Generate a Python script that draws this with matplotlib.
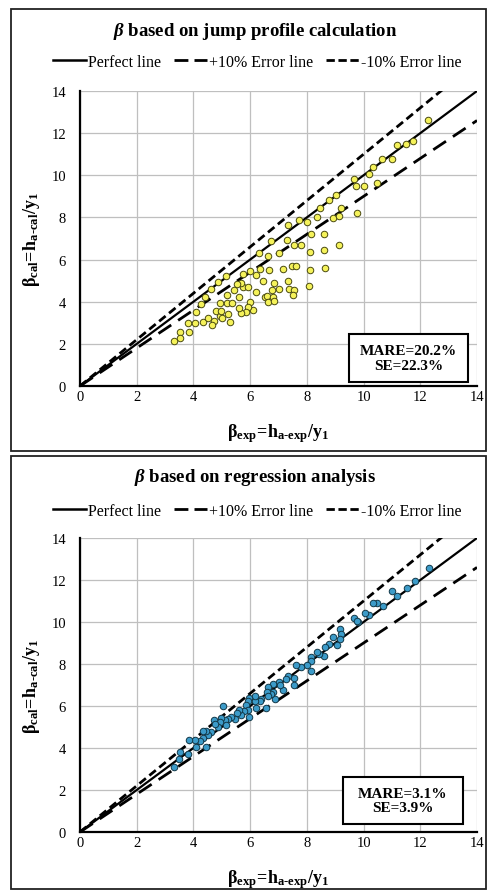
import matplotlib
matplotlib.use("Agg")
import matplotlib.pyplot as plt
from matplotlib.lines import Line2D
from matplotlib.patches import Rectangle
import numpy as np

plt.rcParams['font.family'] = ['Liberation Serif', 'DejaVu Serif']
plt.rcParams['mathtext.fontset'] = 'custom'
plt.rcParams['mathtext.rm'] = 'Liberation Serif'
plt.rcParams['mathtext.it'] = 'Liberation Serif:italic'
plt.rcParams['mathtext.bf'] = 'Liberation Serif:bold'
plt.rcParams['mathtext.bfit'] = 'Liberation Serif:italic:bold'

# ---- data: jump profile calculation (top) ----
jump_exp = [12.27, 11.76, 11.51, 11.18, 11.01, 10.66, 10.33, 10.19, 10.47, 10.01,
            9.65, 9.74, 9.78, 9.04, 8.78, 8.47, 9.21, 8.92, 9.15, 8.35,
            8.01, 7.74, 7.33, 8.15, 8.59, 8.59, 9.15, 8.12, 7.80, 7.54,
            7.29, 7.01, 6.74, 6.62, 6.31, 6.66, 6.35, 5.98, 7.15, 7.47,
            7.62, 8.12, 8.65, 8.07, 7.33, 7.36, 7.53, 7.51, 7.01, 6.84,
            6.78, 6.45, 6.19, 6.19, 6.51, 6.60, 6.62, 6.80, 6.84, 6.09,
            6.00, 5.92, 5.84, 5.68, 5.60, 5.60, 5.74, 5.92, 5.68, 5.53,
            5.76, 5.42, 5.18, 5.18, 5.36, 4.95, 5.15, 4.86, 4.62, 4.42,
            4.25, 4.09, 3.80, 4.06, 4.33, 4.51, 4.71, 4.65, 4.80, 4.92,
            4.98, 5.01, 5.21, 5.29, 3.86, 3.51, 3.54, 3.31]
jump_cal = [12.62, 11.62, 11.48, 11.43, 10.75, 10.75, 10.37, 10.05, 9.63, 9.48,
            9.84, 9.48, 8.21, 9.08, 8.81, 8.46, 8.44, 7.98, 8.05, 8.02,
            7.78, 7.89, 7.62, 7.22, 7.22, 6.46, 6.71, 6.35, 6.67, 6.67,
            6.95, 6.32, 6.87, 6.19, 6.30, 5.52, 5.56, 5.48, 5.54, 5.71,
            5.71, 5.51, 5.60, 4.76, 5.00, 4.60, 4.56, 4.32, 4.60, 4.90,
            4.56, 5.00, 5.29, 4.44, 4.24, 4.29, 3.97, 4.24, 4.05, 3.60,
            3.97, 3.73, 3.52, 3.46, 3.68, 4.24, 4.68, 4.71, 4.89, 4.84,
            5.32, 4.56, 4.32, 3.92, 3.92, 3.92, 5.24, 4.92, 4.60, 4.24,
            3.89, 3.52, 2.98, 2.98, 3.06, 3.25, 3.10, 2.89, 3.57, 3.33,
            3.57, 3.22, 3.41, 3.02, 2.54, 2.54, 2.30, 2.14]

# ---- data: regression analysis (bottom) ----
reg_exp = [12.32, 11.81, 11.52, 11.19, 11.02, 10.69, 10.49, 10.34, 10.20, 10.05,
           9.81, 9.66, 9.78, 9.16, 9.22, 9.16, 8.93, 9.05, 8.79, 8.63,
           8.60, 8.43, 8.36, 8.16, 8.16, 8.13, 7.99, 7.81, 7.61, 7.55,
           7.55, 7.34, 7.28, 7.16, 7.02, 7.04, 6.79, 6.81, 6.87, 6.75,
           6.63, 6.60, 6.63, 6.57, 6.40, 6.34, 6.22, 6.16, 6.16, 5.96,
           5.92, 5.84, 5.92, 5.96, 5.77, 5.69, 5.61, 5.54, 5.45, 5.34,
           5.22, 5.10, 5.16, 5.04, 4.98, 4.92, 4.86, 4.71, 4.75, 4.63,
           4.51, 4.45, 4.33, 4.33, 4.24, 4.10, 4.06, 3.86, 3.80, 3.53,
           3.49, 3.31, 4.43]
reg_cal = [12.59, 11.95, 11.61, 11.23, 11.48, 10.75, 10.89, 10.91, 10.31, 10.43,
           9.99, 10.21, 10.07, 9.67, 9.43, 9.20, 9.28, 8.91, 8.96, 8.80,
           8.40, 8.48, 8.56, 8.32, 8.12, 7.69, 7.93, 7.85, 7.93, 7.33,
           6.98, 7.45, 7.29, 6.74, 7.13, 6.98, 7.06, 6.66, 6.34, 6.55,
           6.90, 6.69, 6.50, 5.90, 6.34, 6.22, 5.90, 6.22, 6.50, 6.39,
           6.22, 6.03, 5.79, 5.47, 5.74, 5.55, 5.79, 5.68, 5.39, 5.50,
           5.39, 5.31, 5.11, 5.98, 5.42, 5.23, 4.99, 5.31, 5.12, 4.76,
           4.63, 4.79, 4.47, 4.79, 4.31, 4.04, 4.36, 4.36, 3.73, 3.81,
           3.46, 3.09, 4.07]

ticks = [0, 2, 4, 6, 8, 10, 12, 14]
line_x = [0, 14]

panels = [
    dict(title="based on jump profile calculation", xe=jump_exp, yc=jump_cal,
         color="#F5F25A", edge="#4A4A10", stats=["MARE=20.2%", "SE=22.3%"]),
    dict(title="based on regression analysis", xe=reg_exp, yc=reg_cal,
         color="#3C9BC9", edge="#123848", stats=["MARE=3.1%", "SE=3.9%"]),
]

W, H = 487, 895
fig = plt.figure(figsize=(W / 100, H / 100), dpi=100)

def fx(px):
    return px / W

def fy(py):
    return 1 - py / H

# panel geometry in pixels
geo = [
    dict(box=(11, 10, 486, 452), ax=(80, 92, 477, 387), title=31, leg=63,
         statbox=(349, 335, 468, 383)),
    dict(box=(11, 457, 486, 890), ax=(80, 539, 477, 833), title=478, leg=512,
         statbox=(343, 778, 463, 825)),
]

short_dash = (0, (3.0, 1.6))
long_dash = (0, (5.5, 3.0))

for p, g in zip(panels, geo):
    bx0, by0, bx1, by1 = g['box']
    fig.patches.append(Rectangle((fx(bx0), fy(by1)), fx(bx1 - bx0), (by1 - by0) / H,
                                 transform=fig.transFigure, fill=False,
                                 edgecolor='#222222', linewidth=1.3))
    ax0, ay0, ax1, ay1 = g['ax']
    ax = fig.add_axes([fx(ax0), fy(ay1), fx(ax1 - ax0), (ay1 - ay0) / H])
    ax.set_xlim(0, 14)
    ax.set_ylim(0, 14)
    ax.set_xticks(ticks)
    ax.set_yticks(ticks)
    ax.grid(True, color='#BFBFBF', linewidth=0.9)
    ax.set_axisbelow(True)
    for s in ['top', 'right']:
        ax.spines[s].set_visible(False)
    for s in ['left', 'bottom']:
        ax.spines[s].set_linewidth(1.6)
        ax.spines[s].set_color('black')
    ax.tick_params(length=0, labelsize=10.5)
    ax.tick_params(axis='x', pad=3)
    ax.tick_params(axis='y', pad=10)

    lx = np.array(line_x, dtype=float)
    ax.plot(lx, lx, color='black', lw=1.6, zorder=3)
    ax.plot(lx, 1.1 * lx, color='black', lw=2.0, linestyle=short_dash, zorder=3)
    ax.plot(lx, 0.9 * lx, color='black', lw=2.0, linestyle=long_dash, zorder=3)
    ax.scatter(p['xe'], p['yc'], s=22, facecolor=p['color'], edgecolor=p['edge'],
               linewidth=0.7, zorder=4)

    ax.set_xlabel(r'$\mathbf{\beta_{exp}\!=\!h_{a\text{-}exp}/y_1}$', fontsize=13, labelpad=13)
    ax.set_ylabel(r'$\mathbf{\beta_{cal}\!=\!h_{a\text{-}cal}/y_1}$', fontsize=13, labelpad=7)

    sx0, sy0, sx1, sy1 = g['statbox']
    fig.patches.append(Rectangle((fx(sx0), fy(sy1)), fx(sx1 - sx0), (sy1 - sy0) / H,
                                 transform=fig.transFigure, facecolor='white',
                                 edgecolor='black', linewidth=1.5, zorder=5))
    fig.text(fx((sx0 + sx1) / 2), fy((sy0 + sy1) / 2), "\n".join(p['stats']),
             ha='center', va='center', fontsize=11, fontweight='bold',
             linespacing=1.15, zorder=6)

    fig.text(fx(255), fy(g['title']), r'$\mathbfit{\beta}$ ' + p['title'],
             ha='center', va='center', fontsize=13.5, fontweight='bold')

    handles = [Line2D([], [], color='black', lw=1.8),
               Line2D([], [], color='black', lw=2.0, linestyle=(0, (5.0, 2.2))),
               Line2D([], [], color='black', lw=2.0, linestyle=(0, (3.0, 1.3)))]
    labels = ['Perfect line', '+10% Error line', '-10% Error line']
    fig.legend(handles, labels, loc='center', bbox_to_anchor=(fx(257), fy(g['leg'])),
               ncol=3, frameon=False, fontsize=11.5, handlelength=2.1,
               handletextpad=0.1, columnspacing=0.8, borderaxespad=0)

fig.savefig('out.png', dpi=100)
